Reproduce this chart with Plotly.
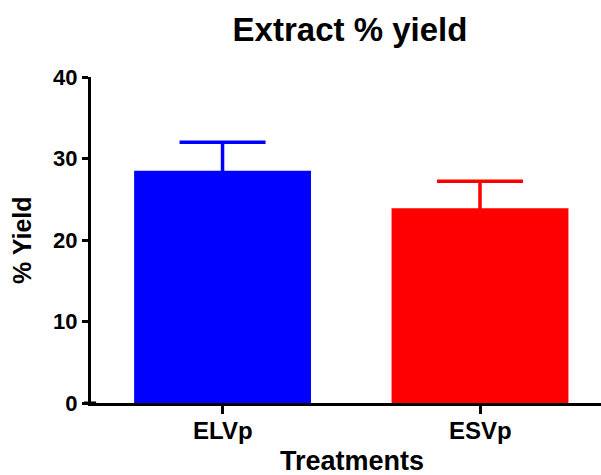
import plotly.graph_objects as go

categories = ["ELVp", "ESVp"]
means = [28.5, 23.9]
errors = [3.5, 3.3]
colors = ["#0000FF", "#FF0000"]
y_ticks = [0, 10, 20, 30, 40]

W, H = 601, 475
ML, MR, MT, MB = 91, 0, 77, 72
pw = W - ML - MR
ph = H - MT - MB

fig = go.Figure()
for c, m, e, col in zip(categories, means, errors, colors):
    fig.add_trace(go.Bar(
        x=[c], y=[m], width=0.687,
        marker=dict(color=col, line=dict(width=0)),
        # lower cap hidden inside the bar (same colour)
        error_y=dict(type="data", symmetric=False, array=[e], arrayminus=[1.5],
                     color=col, thickness=3.5, width=43),
        showlegend=False,
    ))

font = "Liberation Sans, Arial, sans-serif"
annotations = [
    dict(text="<b>Treatments</b>", xref="paper", yref="paper",
         x=(352 - ML) / pw, y=-(MB + 3) / ph,
         xanchor="center", yanchor="bottom", showarrow=False,
         font=dict(size=27, family=font, color="black")),
    dict(text="<b>% Yield</b>", xref="paper", yref="paper",
         x=-(ML - 22) / pw, y=0.5, textangle=-90,
         xanchor="center", yanchor="middle", showarrow=False,
         font=dict(size=25, family=font, color="black")),
]
for c in categories:
    annotations.append(dict(text=f"<b>{c}</b>", xref="x", yref="paper", x=c,
                            y=-(430.5 - (H - MB)) / ph, xanchor="center", yanchor="middle",
                            showarrow=False, font=dict(size=24, family=font, color="black")))

fig.update_layout(
    width=W, height=H,
    margin=dict(l=ML, r=MR, t=MT, b=MB),
    paper_bgcolor="white", plot_bgcolor="white",
    font=dict(family=font, color="black"),
    title=dict(text="<b>Extract % yield</b>", font=dict(size=33, family=font, color="black"),
               x=350 / W, xanchor="center", xref="container",
               y=1 - 29 / H, yanchor="middle"),
    xaxis=dict(type="category", range=[-0.511, 1.47], showline=True, linecolor="black",
               linewidth=3, ticks="outside", ticklen=8, tickwidth=3, tickcolor="black",
               showticklabels=False, showgrid=False, zeroline=False),
    yaxis=dict(range=[0, 40], tickvals=y_ticks, showline=True, linecolor="black",
               linewidth=3, ticks="outside", ticklen=6, tickwidth=3, tickcolor="black",
               tickfont=dict(size=22, family=font, weight="bold"), showgrid=False,
               zeroline=False),
    shapes=[dict(type="line", xref="paper", yref="paper", x0=-7 / pw, x1=0.01, y0=0, y1=0,
                 line=dict(color="black", width=3), layer="above")],
    annotations=annotations,
)

fig.write_html("out.html")
